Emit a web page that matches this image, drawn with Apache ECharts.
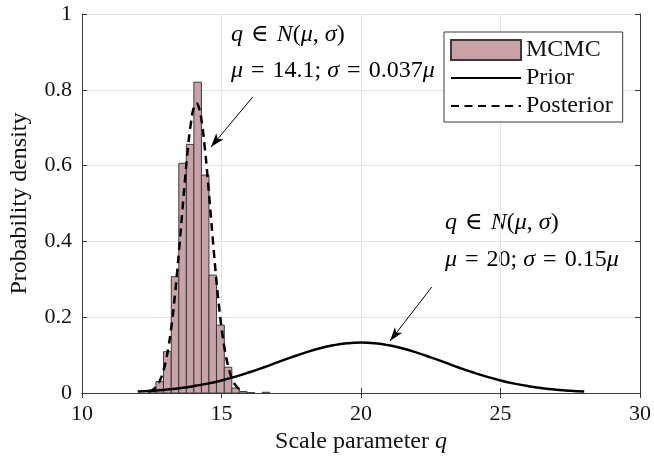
<!DOCTYPE html>
<html>
<head>
<meta charset="utf-8">
<script src="https://cdn.jsdelivr.net/npm/echarts@6/dist/echarts.min.js"></script>
<style>
html,body{margin:0;padding:0;background:#fff;}
#c{width:654px;height:459px;}
</style>
</head>
<body>
<div id="c"></div>
<script>
// Histogram (MCMC) bin edges and densities
const binEdges = [12.37, 12.65, 12.92, 13.20, 13.47, 13.74, 14.01, 14.28, 14.55, 14.82, 15.10, 15.37, 15.64, 15.91, 16.19, 16.46, 16.73];
const binHeights = [0.004, 0.030, 0.109, 0.307, 0.606, 0.656, 0.820, 0.575, 0.311, 0.179, 0.068, 0.013, 0.004, 0.001, 0, 0.002];

// Prior curve points (q, density)
const priorQ = [12, 12.5, 13, 13.5, 14, 14.5, 15, 15.5, 16, 16.5, 17, 17.5, 18, 18.5, 19, 19.5, 20, 20.5, 21, 21.5, 22, 22.5, 23, 23.5, 24, 24.5, 25, 25.5, 26, 26.5, 27, 27.5, 28];
const priorP = [0.0038, 0.0058, 0.0087, 0.0127, 0.0180, 0.0248, 0.0332, 0.0432, 0.0547, 0.0673, 0.0807, 0.0940, 0.1065, 0.1174, 0.1258, 0.1311, 0.1330, 0.1311, 0.1258, 0.1174, 0.1065, 0.0940, 0.0807, 0.0673, 0.0547, 0.0432, 0.0332, 0.0248, 0.0180, 0.0127, 0.0087, 0.0058, 0.0038];

// Posterior curve points (q, density)
const postQ = [12.4, 12.5, 12.6, 12.7, 12.8, 12.9, 13.0, 13.1, 13.2, 13.3, 13.4, 13.5, 13.6, 13.7, 13.8, 13.9, 14.0, 14.1, 14.2, 14.3, 14.4, 14.5, 14.6, 14.7, 14.8, 14.9, 15.0, 15.1, 15.2, 15.3, 15.4, 15.5, 15.6, 15.7, 15.8];
const postP = [0.0038, 0.0069, 0.0123, 0.0209, 0.0343, 0.0543, 0.0828, 0.1218, 0.1727, 0.2360, 0.3108, 0.3947, 0.4830, 0.5700, 0.6482, 0.7105, 0.7508, 0.7647, 0.7508, 0.7105, 0.6482, 0.5700, 0.4830, 0.3947, 0.3108, 0.2360, 0.1727, 0.1218, 0.0828, 0.0543, 0.0343, 0.0209, 0.0123, 0.0069, 0.0038];

// Axis ticks
const xTicks = [10, 15, 20, 25, 30];
const yTicks = [0, 0.2, 0.4, 0.6, 0.8, 1];

// Annotation arrows (start q, start p, end q, end p)
const arrow1 = [[16.12, 0.781], [14.62, 0.649]];
const arrow2 = [[22.54, 0.280], [21.04, 0.137]];

const FONT = '"Liberation Serif", "DejaVu Serif", serif';
const histData = binHeights.map((h, i) => [binEdges[i], binEdges[i + 1], h]);
const priorData = priorQ.map((q, i) => [q, priorP[i]]);
const postData = postQ.map((q, i) => [q, postP[i]]);

const chart = echarts.init(document.getElementById('c'), null, {renderer: 'canvas'});
const axisLineStyle = {color: '#3a3a3a', width: 1};
const rich = {
  i: {fontStyle: 'italic', fontFamily: FONT, fontSize: 24, color: '#111'},
  n: {fontFamily: FONT, fontSize: 24, color: '#111'}
};
const richAxis = {
  i: {fontStyle: 'italic', fontFamily: FONT, fontSize: 24, color: '#111'}
};
const SP = '\u2004';
const hiddenSymbol = {color: 'rgba(0,0,0,0)', borderWidth: 0, opacity: 0};
chart.setOption({
  animation: false,
  backgroundColor: '#fff',
  grid: {left: 80, right: 13, top: 14, bottom: 66, show: false},
  xAxis: [{
    type: 'value', min: xTicks[0], max: xTicks[xTicks.length - 1], interval: 5,
    name: 'Scale parameter {i|q}', nameLocation: 'middle', nameGap: 28,
    nameTextStyle: {fontFamily: FONT, fontSize: 24, color: '#111', rich: richAxis, verticalAlign: 'top'},
    axisLine: {show: true, lineStyle: axisLineStyle},
    axisTick: {show: true, inside: true, length: 5, lineStyle: axisLineStyle},
    axisLabel: {fontFamily: FONT, fontSize: 22, color: '#111', margin: 10},
    splitLine: {show: true, lineStyle: {color: '#e3e3e3', width: 1}}
  }, {
    type: 'value', position: 'top', min: xTicks[0], max: xTicks[xTicks.length - 1], interval: 5,
    axisLine: {show: true, lineStyle: axisLineStyle},
    axisTick: {show: true, inside: true, length: 5, lineStyle: axisLineStyle},
    axisLabel: {show: false}, splitLine: {show: false}
  }],
  yAxis: [{
    type: 'value', min: 0, max: 1, interval: 0.2,
    name: 'Probability density', nameLocation: 'middle', nameGap: 50,
    nameTextStyle: {fontFamily: FONT, fontSize: 24, color: '#111'},
    axisLine: {show: true, lineStyle: axisLineStyle},
    axisTick: {show: true, inside: true, length: 5, lineStyle: axisLineStyle},
    axisLabel: {fontFamily: FONT, fontSize: 22, color: '#111', margin: 10,
      formatter: v => String(+v.toFixed(1))},
    splitLine: {show: true, lineStyle: {color: '#e3e3e3', width: 1}}
  }, {
    type: 'value', position: 'right', min: 0, max: 1, interval: 0.2,
    axisLine: {show: true, lineStyle: axisLineStyle},
    axisTick: {show: true, inside: true, length: 5, lineStyle: axisLineStyle},
    axisLabel: {show: false}, splitLine: {show: false}
  }],
  legend: {
    orient: 'vertical', left: 444, top: 32,
    padding: [6, 10, 4, 6], itemGap: 4,
    itemWidth: 70, itemHeight: 20,
    backgroundColor: '#fff', borderColor: '#3a3a3a', borderWidth: 1, borderRadius: 0,
    textStyle: {fontFamily: FONT, fontSize: 24, color: '#111'},
    data: [
      {name: 'MCMC', icon: 'rect'},
      {name: 'Prior', itemStyle: hiddenSymbol},
      {name: 'Posterior', itemStyle: hiddenSymbol}
    ]
  },
  series: [{
    name: 'MCMC', type: 'custom', xAxisIndex: 0, yAxisIndex: 0,
    itemStyle: {color: '#c9a2a8', borderColor: '#3a3a3a', borderWidth: 1},
    encode: {x: [0, 1], y: 2},
    data: histData,
    renderItem: function (params, api) {
      const h = api.value(2);
      if (!h) return null;
      const p0 = api.coord([api.value(0), h]);
      const p1 = api.coord([api.value(1), 0]);
      return {
        type: 'rect',
        shape: {x: p0[0], y: p0[1], width: p1[0] - p0[0], height: p1[1] - p0[1]},
        style: {fill: '#c9a2a8', stroke: '#3a3a3a', lineWidth: 1}
      };
    },
    z: 2
  }, {
    name: 'Prior', type: 'line', data: priorData, smooth: true, symbol: 'none', showSymbol: false,
    lineStyle: {color: '#000', width: 2.5}, itemStyle: {color: '#000'}, z: 4,
    markLine: {
      silent: true, symbol: ['none', 'arrow'], symbolSize: [7, 14],
      lineStyle: {color: '#000', width: 1, type: 'solid'}, label: {show: false},
      data: [
        [{coord: arrow1[0]}, {coord: arrow1[1]}],
        [{coord: arrow2[0]}, {coord: arrow2[1]}]
      ]
    }
  }, {
    name: 'Posterior', type: 'line', data: postData, smooth: true, symbol: 'none', showSymbol: false,
    lineStyle: {color: '#000', width: 2.5, type: [8, 5.5]}, itemStyle: {color: '#000'}, z: 5
  }],
  graphic: [
    {type: 'text', left: 231, top: 23, style: {text: '{i|q}{n|' + SP + '∈' + SP + '}{i|N}{n|(}{i|μ}{n|, }{i|σ}{n|)}', rich: rich}},
    {type: 'text', left: 231, top: 59, style: {text: '{i|μ}{n|' + SP + '=' + SP + '14.1; }{i|σ}{n|' + SP + '=' + SP + '0.037}{i|μ}', rich: rich}},
    {type: 'text', left: 445, top: 211, style: {text: '{i|q}{n|' + SP + '∈' + SP + '}{i|N}{n|(}{i|μ}{n|, }{i|σ}{n|)}', rich: rich}},
    {type: 'text', left: 445, top: 248, style: {text: '{i|μ}{n|' + SP + '=' + SP + '20; }{i|σ}{n|' + SP + '=' + SP + '0.15}{i|μ}', rich: rich}}
  ]
});
</script>
</body>
</html>
